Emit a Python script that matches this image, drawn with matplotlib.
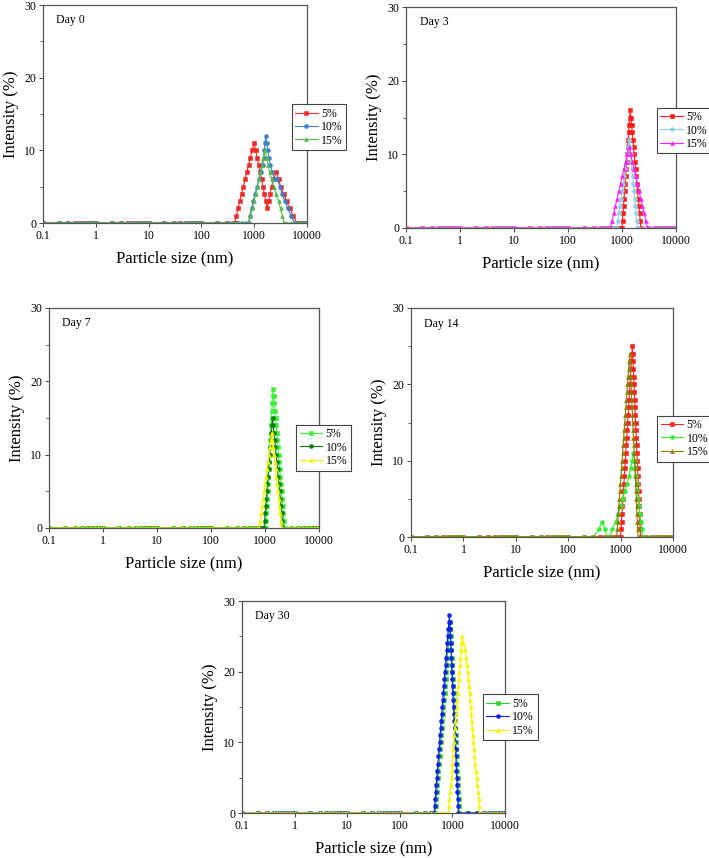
import matplotlib
matplotlib.use("Agg")
import matplotlib.pyplot as plt

plt.rcParams['font.family'] = ['Liberation Serif', 'DejaVu Serif']

# shared zero baseline grid (nm)
BASE_X = [0.1, 0.2, 0.3, 0.4, 0.5, 0.6, 0.7, 0.8, 0.9,
          1, 2, 3, 4, 5, 6, 7, 8, 9,
          10, 20, 30, 40, 50, 60, 70, 80, 90,
          100, 200, 300, 400, 500, 600, 700, 800, 900,
          1000, 2000, 3000, 4000, 5000, 6000, 7000, 8000, 9000, 10000]

LABELS = ["5%", "10%", "15%"]

# ---- Day 0 ----
d0_5_x = [424, 458, 494, 533, 576, 622, 671, 725, 782, 844, 912, 1000,
          1066, 1136, 1211, 1291, 1376, 1467, 1563, 1666, 1776,
          1870, 1990, 2130, 2320, 2610, 2900, 3200, 3600, 4100, 4700, 5500, 6400]
d0_5_y = [0, 1, 2, 3, 4, 5, 6, 7, 8, 9, 10, 11,
          10, 9, 8, 7, 6, 5, 4, 3, 2,
          3, 4, 5, 6, 7, 6, 5, 4, 3, 2, 1, 0]
d0_10_x = [780, 827, 890, 957, 1030, 1140, 1240, 1340, 1440, 1520, 1560, 1600, 1650,
           1720, 1800, 1900, 2030, 2200, 2450, 2750, 3050, 3400, 3800, 4300, 5000, 5800]
d0_10_y = [0, 1, 2, 3, 4, 5, 6, 7, 8, 9, 10, 11, 12,
           11, 10, 9, 8, 7, 6, 6, 5, 4, 3, 2, 1, 0]
d0_15_x = [790, 850, 915, 990, 1070, 1140, 1220, 1310, 1400, 1480, 1600,
           1720, 1830, 1950, 2130, 2360, 2580, 2900, 3150, 3400, 3650]
d0_15_y = [0, 1, 2, 3, 4, 5, 6, 7, 8, 9, 10,
           9, 8, 7, 6, 5, 4, 3, 2, 1, 0]

# ---- Day 3 ----
d3_5_x = [1000, 1022, 1045, 1068, 1092, 1116, 1141, 1166, 1192, 1219, 1246, 1274, 1302,
          1331, 1361, 1391, 1422,
          1463, 1505, 1548, 1592, 1638, 1685, 1733, 1783, 1834, 1887, 1941, 1997,
          2054, 2113, 2174, 2236]
d3_5_y = [0, 1, 2, 3, 4, 5, 6, 7, 8, 9, 10, 11, 12, 13, 14, 15, 16,
          15, 14, 13, 12, 11, 10, 9, 8, 7, 6, 5, 4, 3, 2, 1, 0]
d3_10_x = [800, 837, 875, 915, 957, 1001, 1047, 1095, 1146, 1198, 1253, 1311, 1371,
           1410, 1451, 1492, 1535, 1579, 1625, 1671, 1719, 1769, 1819, 1872, 1925]
d3_10_y = [0, 1, 2, 3, 4, 5, 6, 7, 8, 9, 10, 11, 12,
           11, 10, 9, 8, 7, 6, 5, 4, 3, 2, 1, 0]
d3_15_x = [610, 655, 704, 757, 813, 874, 939, 1009, 1084, 1165, 1252, 1345,
           1445, 1553, 1669, 1793, 1927, 2070, 2225, 2390, 2568, 2760, 2966]
d3_15_y = [0, 1, 2, 3, 4, 5, 6, 7, 8, 9, 10, 11,
           10, 9, 8, 7, 6, 5, 4, 3, 2, 1, 0]

# ---- Day 7 ----
d7_5_x = [1025, 1043, 1061, 1079, 1097, 1116, 1136, 1155, 1175, 1195, 1216, 1237,
          1258, 1280, 1302, 1324, 1347, 1370, 1394, 1418,
          1455, 1492, 1530, 1570, 1610, 1652, 1694, 1738, 1782, 1828, 1875, 1923,
          1973, 2023, 2075, 2129, 2183, 2240, 2297]
d7_5_y = [0, 1, 2, 3, 4, 5, 6, 7, 8, 9, 10, 11, 12, 13, 14, 15, 16, 17, 18, 19,
          18, 17, 16, 15, 14, 13, 12, 11, 10, 9, 8, 7, 6, 5, 4, 3, 2, 1, 0]
d7_10_x = [960, 984, 1008, 1033, 1058, 1084, 1110, 1137, 1165, 1194, 1223, 1253,
           1283, 1315, 1347, 1380,
           1422, 1466, 1511, 1557, 1605, 1654, 1705, 1757, 1811, 1866, 1923, 1982,
           2043, 2105, 2170]
d7_10_y = [0, 1, 2, 3, 4, 5, 6, 7, 8, 9, 10, 11, 12, 13, 14, 15,
           14, 13, 12, 11, 10, 9, 8, 7, 6, 5, 4, 3, 2, 1, 0]
d7_15_x = [790, 822, 856, 891, 928, 966, 1005, 1047, 1090, 1134, 1181, 1229, 1280, 1332,
           1376, 1421, 1468, 1516, 1566, 1618, 1671, 1726, 1783, 1842, 1903, 1965, 2030]
d7_15_y = [0, 1, 2, 3, 4, 5, 6, 7, 8, 9, 10, 11, 12, 13,
           12, 11, 10, 9, 8, 7, 6, 5, 4, 3, 2, 1, 0]

# ---- Day 14 ----
d14_5_x = [1000, 1021, 1042, 1064, 1086, 1109, 1132, 1156, 1180, 1205, 1230, 1256,
           1282, 1309, 1336, 1364, 1393, 1422, 1452, 1482, 1513, 1545, 1577, 1610,
           1644, 1678,
           1702, 1727, 1752, 1777, 1803, 1829, 1855, 1882, 1909, 1936, 1964, 1993,
           2021, 2050, 2080, 2110, 2140, 2171, 2203, 2234, 2266, 2299, 2332, 2366, 2400]
d14_5_y = [0, 1, 2, 3, 4, 5, 6, 7, 8, 9, 10, 11, 12, 13, 14, 15, 16, 17, 18, 19,
           20, 21, 22, 23, 24, 25,
           24, 23, 22, 21, 20, 19, 18, 17, 16, 15, 14, 13, 12, 11, 10, 9, 8, 7,
           6, 5, 4, 3, 2, 1, 0]
d14_10_x = [300, 381, 442, 497, 552, 620, 690, 800, 900, 1000, 1100, 1200, 1320,
            1450, 1560, 1650, 1760,
            1850, 1920, 1960, 2030, 2100, 2180, 2260, 2340, 2440, 2530, 2630]
d14_10_y = [0, 1, 2, 1, 0, 0, 1, 2, 3, 4, 5, 6, 7, 8, 9, 10, 11,
            10, 9, 8, 7, 6, 5, 4, 3, 2, 1, 0]
d14_15_x = [840, 860, 881, 902, 924, 946, 969, 993, 1017, 1041, 1066, 1092, 1118,
            1145, 1173, 1201, 1230, 1260, 1290, 1322, 1354, 1386, 1420, 1454, 1489,
            1512, 1535, 1559, 1583, 1607, 1632, 1657, 1683, 1709, 1735, 1762, 1789,
            1816, 1844, 1873, 1901, 1931, 1961, 1991, 2021, 2052, 2084, 2116, 2149]
d14_15_y = [0, 1, 2, 3, 4, 5, 6, 7, 8, 9, 10, 11, 12, 13, 14, 15, 16, 17, 18, 19,
            20, 21, 22, 23, 24,
            23, 22, 21, 20, 19, 18, 17, 16, 15, 14, 13, 12, 11, 10, 9, 8, 7, 6,
            5, 4, 3, 2, 1, 0]

# ---- Day 30 ----
d30_5_x = [470, 482, 493, 505, 518, 531, 544, 557, 571, 585, 599, 614, 629, 644,
           660, 676, 693, 710, 727, 745, 764, 782, 802, 821, 841, 862, 883, 905,
           918, 932, 946, 960, 975, 989, 1004, 1019, 1034, 1050, 1065, 1081, 1098,
           1114, 1131, 1147, 1165, 1182, 1200, 1218, 1236, 1254, 1273, 1292, 1311,
           1330, 1350]
d30_5_y = [0, 1, 2, 3, 4, 5, 6, 7, 8, 9, 10, 11, 12, 13, 14, 15, 16, 17, 18, 19,
           20, 21, 22, 23, 24, 25, 26, 27,
           26, 25, 24, 23, 22, 21, 20, 19, 18, 17, 16, 15, 14, 13, 12, 11, 10, 9,
           8, 7, 6, 5, 4, 3, 2, 1, 0]
d30_10_x = [449, 460, 471, 482, 494, 506, 518, 531, 544, 557, 570, 584, 598, 613,
            627, 643, 658, 674, 690, 707, 724, 742, 760, 778, 797, 816, 836, 856, 877,
            889, 902, 915, 928, 941, 954, 968, 982, 996, 1010, 1024, 1039, 1053,
            1068, 1084, 1099, 1115, 1131, 1147, 1163, 1180, 1196, 1213, 1231, 1248,
            1266, 1284, 1302]
d30_10_y = [0, 1, 2, 3, 4, 5, 6, 7, 8, 9, 10, 11, 12, 13, 14, 15, 16, 17, 18, 19,
            20, 21, 22, 23, 24, 25, 26, 27, 28,
            27, 26, 25, 24, 23, 22, 21, 20, 19, 18, 17, 16, 15, 14, 13, 12, 11, 10,
            9, 8, 7, 6, 5, 4, 3, 2, 1, 0]
d30_15_x = [840, 860, 880, 903, 935, 971, 985, 1000, 1015, 1035, 1055, 1076, 1108,
            1140, 1174, 1208, 1238, 1268, 1300, 1329, 1358, 1390, 1420, 1450, 1477, 1504,
            1617, 1740, 1810, 1872, 1940, 2014, 2060, 2115, 2166, 2220, 2275, 2331,
            2390, 2450, 2507, 2570, 2630, 2697, 2770, 2901, 2990, 3121, 3170, 3210, 3255]
d30_15_y = [0, 1, 2, 3, 4, 5, 6, 7, 8, 9, 10, 11, 12, 13, 14, 15, 16, 17, 18, 19,
            20, 21, 22, 23, 24, 25,
            24, 23, 22, 21, 20, 19, 18, 17, 16, 15, 14, 13, 12, 11, 10, 9, 8, 7,
            6, 5, 4, 3, 2, 1, 0]


def with_baseline(px, py):
    lo, hi = min(px), max(px)
    pts = [(x, 0) for x in BASE_X if x < lo or x > hi] + list(zip(px, py))
    pts.sort()
    return [p[0] for p in pts], [p[1] for p in pts]


# panel: title, axes box in pixels (left, top, right, bottom), series, colors, legend anchor
panels = [
    ("Day 0", (43, 5, 307, 223), [(d0_5_x, d0_5_y), (d0_10_x, d0_10_y), (d0_15_x, d0_15_y)],
     ['#f02a2a', '#3d82c6', '#55b84f'], (0.942, 0.545)),
    ("Day 3", (406, 7, 676, 228), [(d3_5_x, d3_5_y), (d3_10_x, d3_10_y), (d3_15_x, d3_15_y)],
     ['#ff1c1c', '#8fd0ee', '#ff22ff'], (0.929, 0.545)),
    ("Day 7", (49, 308, 319, 528), [(d7_5_x, d7_5_y), (d7_10_x, d7_10_y), (d7_15_x, d7_15_y)],
     ['#3cf03c', '#0a7a0a', '#f5f500'], (0.915, 0.47)),
    ("Day 14", (411, 308, 673, 537), [(d14_5_x, d14_5_y), (d14_10_x, d14_10_y), (d14_15_x, d14_15_y)],
     ['#ff2020', '#33ee33', '#8a7d00'], (0.939, 0.53)),
    ("Day 30", (242, 601, 505, 813), [(d30_5_x, d30_5_y), (d30_10_x, d30_10_y), (d30_15_x, d30_15_y)],
     ['#33d033', '#1020ee', '#f5f500'], (0.916, 0.56)),
]

markers = ['s', 'o', '^']

W, H = 709, 858
fig = plt.figure(figsize=(W / 100, H / 100), dpi=100)

for title, box, series, colors, anchor in panels:
    l, t, r, b = box
    ax = fig.add_axes([l / W, 1 - b / H, (r - l) / W, (b - t) / H])
    for (sx, sy), c, m, lab in zip(series, colors, markers, LABELS):
        x, y = with_baseline(sx, sy)
        ax.plot(x, y, color=c, marker=m, markersize=2.8, lw=0.8, label=lab,
                markeredgewidth=0.4)
    ax.set_xscale('log')
    ax.set_xlim(0.1, 10000)
    ax.set_ylim(0, 30)
    ax.set_xticks([0.1, 1, 10, 100, 1000, 10000])
    ax.set_xticklabels(['0.1', '1', '10', '100', '1000', '10000'])
    ax.xaxis.set_minor_locator(matplotlib.ticker.NullLocator())
    ax.set_yticks([0, 10, 20, 30])
    ax.set_yticks([5, 15, 25], minor=True)
    ax.tick_params(axis='both', which='major', labelsize=8.5, length=3, width=0.7,
                   color='#444444', pad=2)
    ax.tick_params(axis='y', which='minor', length=2, width=0.6, color='#444444')
    for sp in ax.spines.values():
        sp.set_color('#555555')
        sp.set_linewidth(0.9)
    ax.set_xlabel('Particle size (nm)', fontsize=12, labelpad=6)
    ax.set_ylabel('Intensity (%)', fontsize=12, labelpad=4)
    ax.text(0.05, 0.93, title, transform=ax.transAxes, fontsize=8.5, va='center')
    leg = ax.legend(loc='upper left', bbox_to_anchor=anchor, fontsize=8.5, frameon=True,
                    fancybox=False, framealpha=1, edgecolor='#444444', numpoints=1,
                    handlelength=1.9, handletextpad=0.3, labelspacing=0.12,
                    borderpad=0.3, borderaxespad=0)
    leg.get_frame().set_linewidth(0.8)

fig.savefig('out.png', dpi=100)
